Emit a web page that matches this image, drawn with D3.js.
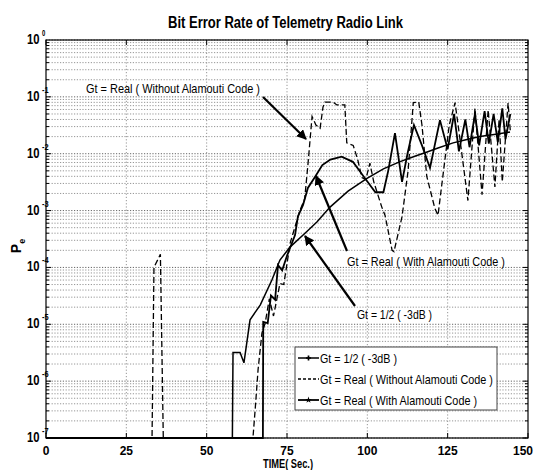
<!DOCTYPE html>
<html>
<head>
<meta charset="utf-8">
<script src="https://cdn.jsdelivr.net/npm/d3@7"></script>
<style>
  body { margin: 0; background: #fff; }
  text { font-family: "Liberation Sans Narrow", "Arial Narrow", "Liberation Sans", sans-serif; fill: #000; }
</style>
</head>
<body>
<div id="chart"></div>
<script>
// Gt = 1/2 (-3dB)
const tHalf = [0, 58, 58.2, 60.4, 61.6, 63.5, 66.7, 70.3, 72.8, 76, 80.6, 84.3, 88.4, 94, 99.9, 105, 110, 115, 118.6, 122, 126.7, 131, 135, 140, 144.4];
const pHalf = [1e-7, 1e-7, 3.2e-6, 3.2e-6, 2.1e-6, 1.2e-5, 2.2e-5, 6e-5, 1.35e-4, 2.3e-4, 4e-4, 6.3e-4, 1.15e-3, 2.2e-3, 3.7e-3, 5.4e-3, 7.2e-3, 9.1e-3, 1.07e-2, 1.26e-2, 1.55e-2, 1.78e-2, 2.0e-2, 2.2e-2, 2.4e-2];

// Gt = Real (Without Alamouti Code)
const tNoAla = [0, 33, 33.6, 35.6, 36.5, 64.4, 65.1, 66, 67.2, 68.2, 69.5, 70.8, 72.8, 74, 76, 79, 80.5, 81.5, 82.8, 84, 85.3, 86.2, 86.8, 89.4, 90.5, 93, 93.6, 95.6, 97, 98.3, 99.5, 100.8, 102, 104.5, 105.5, 107.7, 108.3, 110.8, 112.7, 114.3, 116, 117, 118.5, 121, 122, 123.5, 125.5, 127.3, 128.5, 131.3, 133.5, 135.7, 137.6, 139.7, 141, 142, 143.8, 144.5];
const pNoAla = [1e-7, 1e-7, 1e-4, 1.7e-4, 1e-7, 1e-7, 3.2e-7, 1.6e-6, 7e-6, 1.05e-5, 2.8e-5, 1.4e-5, 5.2e-5, 5e-5, 2.7e-4, 1.0e-3, 1.6e-3, 6.3e-3, 4.5e-2, 3.2e-2, 2.8e-2, 6.6e-2, 8.1e-2, 8.1e-2, 7.2e-2, 7.2e-2, 1.55e-2, 1.4e-2, 7.9e-3, 3.8e-3, 3.5e-3, 6.8e-3, 3.2e-3, 1.15e-3, 8.3e-4, 2.0e-4, 1.9e-4, 7.8e-4, 5.1e-3, 7.9e-2, 8.1e-2, 3.2e-2, 4e-3, 1.1e-3, 8.3e-4, 4e-3, 3.2e-2, 7.9e-2, 2.5e-2, 1.5e-3, 6.3e-2, 1.9e-3, 5.9e-2, 2.6e-3, 4e-2, 3.2e-3, 7.8e-2, 2.5e-2];

// Gt = Real (With Alamouti Code)
const tAla = [0, 67.5, 67.6, 69, 70, 71.3, 72.2, 73.5, 75, 77.5, 78.4, 80, 81.5, 83.7, 86, 88.5, 92, 95.5, 98.4, 101.5, 102.5, 105, 106.5, 108.6, 110.8, 112.5, 114.5, 117, 119.5, 122.6, 125, 127, 128.5, 130.5, 131.8, 133.5, 134.8, 136.5, 137.8, 139.3, 140.6, 142, 143, 144.5];
const pAla = [1e-7, 1e-7, 1.1e-5, 1.05e-5, 3.2e-5, 2.7e-5, 1.1e-4, 8.9e-5, 1.6e-4, 3.7e-4, 7.9e-4, 1.26e-3, 2.5e-3, 3.9e-3, 6.3e-3, 7.9e-3, 8.9e-3, 7.2e-3, 4.3e-3, 2.5e-3, 2.1e-3, 2.1e-3, 5e-3, 2.3e-2, 3.2e-3, 1e-2, 3.2e-2, 1.4e-2, 5.6e-3, 3.9e-2, 1.2e-2, 5e-2, 1.1e-2, 4e-2, 1.3e-2, 5e-2, 1.4e-2, 5.6e-2, 1.5e-2, 5e-2, 1.6e-2, 6.3e-2, 1.8e-2, 5e-2];

const xTicks = [0, 25, 50, 75, 100, 125, 150];
const yDecades = [0, -1, -2, -3, -4, -5, -6, -7];

const title = 'Bit Error Rate of Telemetry Radio Link';
const legendLabels = ['Gt = 1/2 ( -3dB )', 'Gt = Real ( Without Alamouti Code )', 'Gt = Real ( With Alamouti Code )'];

const W = 535, H = 470;
const margin = { top: 40, right: 7, bottom: 32, left: 46 };
const width = W - margin.left - margin.right;
const height = H - margin.top - margin.bottom;

const x = d3.scaleLinear().domain([0, 150]).range([0, width]);
const y = d3.scaleLog().domain([1e-7, 1]).range([height, 0]);

// the reference font is a narrow one: squeeze text to its measured width
function narrow(sel, w) {
    sel.attr('textLength', w).attr('lengthAdjust', 'spacingAndGlyphs');
    return sel;
}

const svg = d3.select('#chart').append('svg')
    .attr('width', W)
    .attr('height', H);

const defs = svg.append('defs');
defs.append('marker')
    .attr('id', 'arrow')
    .attr('viewBox', '0 0 10 10')
    .attr('refX', 9).attr('refY', 5)
    .attr('markerWidth', 4.5).attr('markerHeight', 4.5)
    .attr('orient', 'auto')
    .append('path').attr('d', 'M0,0 L10,5 L0,10 z').attr('fill', '#000');

svg.append('text')
    .attr('x', 168).attr('y', 28)
    .style('font-size', '16px').style('font-weight', 'bold')
    .text(title)
    .call(narrow, 235);

const g = svg.append('g')
    .attr('transform', 'translate(' + margin.left + ',' + margin.top + ')');

// grid: every minor decade value
const minorVals = [];
for (let e = -7; e < 0; e++) {
    for (let k = 1; k < 10; k++) minorVals.push(k * Math.pow(10, e));
}
const isMajor = d => Math.abs(Math.log10(d) - Math.round(Math.log10(d))) < 1e-9;

g.append('g').selectAll('line')
    .data(minorVals.concat([1]))
    .enter().append('line')
    .attr('x1', 0).attr('x2', width)
    .attr('y1', d => y(d)).attr('y2', d => y(d))
    .attr('stroke', d => isMajor(d) ? '#555' : '#8a8a8a')
    .attr('stroke-width', 0.9)
    .attr('stroke-dasharray', '1.2,1.6');

g.append('g').selectAll('line')
    .data(xTicks.slice(1, -1))
    .enter().append('line')
    .attr('x1', d => x(d)).attr('x2', d => x(d))
    .attr('y1', 0).attr('y2', height)
    .attr('stroke', '#8a8a8a')
    .attr('stroke-width', 0.9)
    .attr('stroke-dasharray', '1.2,2');

// tick marks inside the box
const tk = g.append('g').attr('stroke', '#000').attr('stroke-width', 1);
minorVals.forEach(function (d) {
    const len = isMajor(d) ? 5 : 3;
    tk.append('line').attr('x1', 0).attr('x2', len).attr('y1', y(d)).attr('y2', y(d));
    tk.append('line').attr('x1', width - len).attr('x2', width).attr('y1', y(d)).attr('y2', y(d));
});
xTicks.forEach(function (d) {
    tk.append('line').attr('x1', x(d)).attr('x2', x(d)).attr('y1', height).attr('y2', height - 5);
    tk.append('line').attr('x1', x(d)).attr('x2', x(d)).attr('y1', 0).attr('y2', 5);
});

// x tick labels
g.append('g').selectAll('text')
    .data(xTicks)
    .enter().append('text')
    .attr('x', d => d === 150 ? width + 5 : x(d))
    .attr('y', height + 17)
    .attr('text-anchor', d => d === 150 ? 'end' : 'middle')
    .style('font-size', '12px').style('font-weight', 'bold')
    .text(d => d);

// y tick labels 10^e
const yl = g.append('g').selectAll('g')
    .data(yDecades)
    .enter().append('g')
    .attr('transform', d => 'translate(0,' + y(Math.pow(10, d)) + ')');
yl.append('text')
    .attr('x', -19).attr('y', 4)
    .style('font-size', '14px').style('font-weight', 'bold')
    .text('10')
    .call(narrow, 12.5);
yl.append('text')
    .attr('x', -4).attr('y', -4)
    .style('font-size', '8.5px').style('font-weight', 'bold')
    .text(d => String(d))
    .each(function (d) { narrow(d3.select(this), String(d).length * 3.3); });

// axis labels
svg.append('text')
    .attr('transform', 'translate(21,246) rotate(-90)')
    .attr('text-anchor', 'middle')
    .style('font-size', '14px').style('font-weight', 'bold')
    .call(function (t) {
        t.append('tspan').text('P');
        t.append('tspan').attr('dy', 4).style('font-size', '9px').text('e');
    });

svg.append('text')
    .attr('x', 263).attr('y', 468)
    .style('font-size', '12px').style('font-weight', 'bold')
    .text('TIME( Sec.)')
    .call(narrow, 50);

// clip plot lines to box
defs.append('clipPath').attr('id', 'clip')
    .append('rect').attr('x', 0).attr('y', -1).attr('width', width).attr('height', height + 3);

const line = d3.line()
    .x(d => x(d[0]))
    .y(d => y(d[1]));

const plot = g.append('g').attr('clip-path', 'url(#clip)');

plot.append('path')
    .datum(d3.zip(tNoAla, pNoAla))
    .attr('fill', 'none').attr('stroke', '#000')
    .attr('stroke-width', 1.3)
    .attr('stroke-dasharray', '6,3')
    .attr('d', line);

plot.append('path')
    .datum(d3.zip(tHalf, pHalf))
    .attr('fill', 'none').attr('stroke', '#000')
    .attr('stroke-width', 1.5)
    .attr('d', line);

plot.append('path')
    .datum(d3.zip(tAla, pAla))
    .attr('fill', 'none').attr('stroke', '#000')
    .attr('stroke-width', 1.8)
    .attr('d', line);

// box
g.append('rect')
    .attr('width', width).attr('height', height)
    .attr('fill', 'none').attr('stroke', '#000').attr('stroke-width', 1.2);

// annotations
const notes = [
    { text: legendLabels[1], tx: 86, ty: 93, w: 174, from: [263, 97], to: [306, 139] },
    { text: legendLabels[2], tx: 347, ty: 266, w: 158, from: [347, 251], to: [316, 176] },
    { text: legendLabels[0], tx: 357, ty: 319, w: 75, from: [355, 306], to: [305, 236] }
];
notes.forEach(function (n) {
    svg.append('line')
        .attr('x1', n.from[0]).attr('y1', n.from[1])
        .attr('x2', n.to[0]).attr('y2', n.to[1])
        .attr('stroke', '#000').attr('stroke-width', 2.2)
        .attr('marker-end', 'url(#arrow)');
    svg.append('text')
        .attr('x', n.tx).attr('y', n.ty)
        .style('font-size', '13px')
        .text(n.text)
        .call(narrow, n.w);
});

// legend
const lg = svg.append('g').attr('transform', 'translate(295,347)');
lg.append('rect')
    .attr('width', 202).attr('height', 63)
    .attr('fill', '#fff').attr('stroke', '#444').attr('stroke-width', 1);
const legendStyles = [
    { dash: null, sw: 1.5, mark: '+', w: 77 },
    { dash: '3,2', sw: 1.3, mark: null, w: 173 },
    { dash: null, sw: 1.8, mark: '*', w: 157 }
];
legendLabels.forEach(function (lab, i) {
    const ly = 11 + i * 21;
    const s = legendStyles[i];
    lg.append('line')
        .attr('x1', 3).attr('x2', 24).attr('y1', ly).attr('y2', ly)
        .attr('stroke', '#000').attr('stroke-width', s.sw)
        .attr('stroke-dasharray', s.dash);
    if (s.mark) {
        lg.append('path')
            .attr('transform', 'translate(13.5,' + ly + ')')
            .attr('d', d3.symbol().type(s.mark === '+' ? d3.symbolCross : d3.symbolStar).size(14))
            .attr('fill', '#000');
    }
    lg.append('text')
        .attr('x', 25).attr('y', ly + 4.5)
        .style('font-size', '13px')
        .text(lab)
        .call(narrow, s.w);
});
</script>
</body>
</html>
